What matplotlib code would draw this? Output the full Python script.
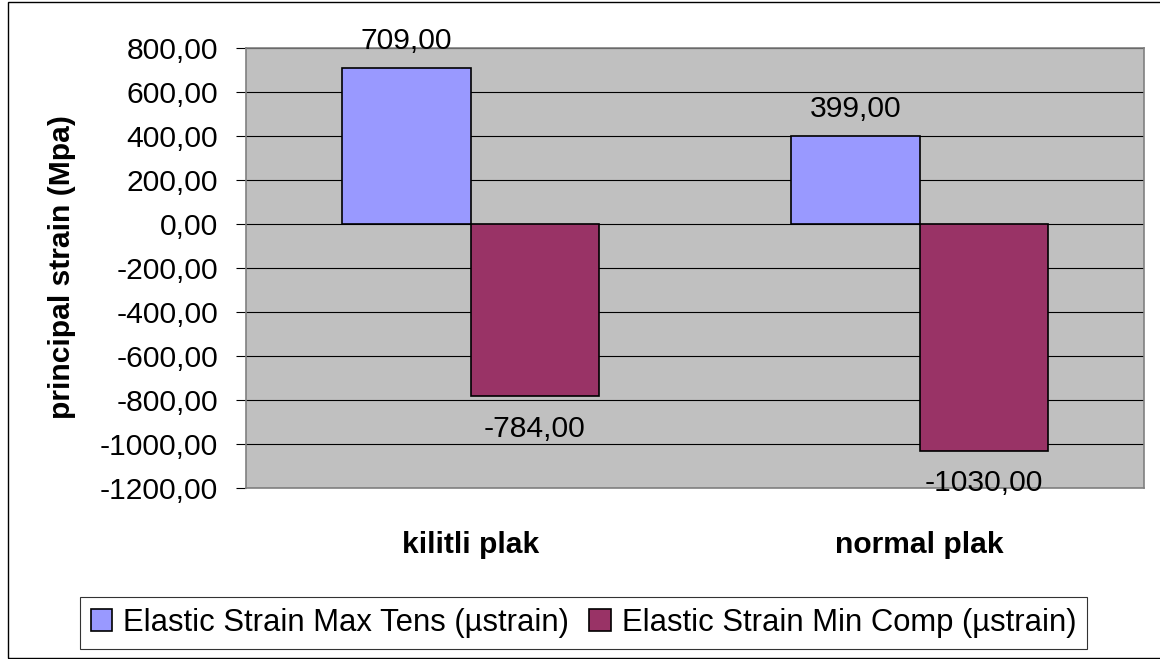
import matplotlib
matplotlib.use('Agg')
import matplotlib.pyplot as plt
from matplotlib.patches import Rectangle
import numpy as np

categories = ['kilitli plak', 'normal plak']
max_tens = [709.0, 399.0]
min_comp = [-784.0, -1030.0]
series_names = ['Elastic Strain Max Tens (µstrain)', 'Elastic Strain Min Comp (µstrain)']
y_ticks = [800, 600, 400, 200, 0, -200, -400, -600, -800, -1000, -1200]


def comma_fmt(v):
    '''Two decimals with a comma as the decimal sign.'''
    return f'{v:.2f}'.replace('.', ',')


plt.rcParams['font.family'] = ['Liberation Sans', 'DejaVu Sans']
FS = 21.6

W, H = 1160, 659
fig = plt.figure(figsize=(W / 100, H / 100), dpi=100)
fig.patch.set_facecolor('white')

# chart border
fig.add_artist(Rectangle((8 / W, 1 - 658 / H), 1.2, (658 - 2) / H,
                         transform=fig.transFigure, fill=False,
                         edgecolor='black', linewidth=1.0))

ax = fig.add_axes([246 / W, 1 - 488 / H, 898 / W, 440 / H])
ax.set_facecolor('#C0C0C0')

x = np.arange(len(categories))
w = 1 / 3.5

ax.set_axisbelow(True)
ax.grid(axis='y', color='black', linewidth=0.8)
b1 = ax.bar(x - w / 2, max_tens, w, color='#9999FF', edgecolor='black',
            linewidth=1.2, label=series_names[0], zorder=2)
b2 = ax.bar(x + w / 2, min_comp, w, color='#993366', edgecolor='black',
            linewidth=1.2, label=series_names[1], zorder=2)

for xi, v in zip(x - w / 2, max_tens):
    ax.annotate(comma_fmt(v), (xi, v), xytext=(0, 13.7), textcoords='offset points',
                ha='center', va='baseline', fontsize=FS, zorder=5)
for xi, v in zip(x + w / 2, min_comp):
    ax.annotate(comma_fmt(v), (xi, v), xytext=(0, -13), textcoords='offset points',
                ha='center', va='top', fontsize=FS, zorder=5)

ax.set_xlim(-0.5, 1.5)
ax.set_ylim(-1200, 800)
ax.set_yticks(y_ticks)
ax.set_yticklabels([comma_fmt(t) for t in y_ticks], fontsize=FS)
ax.tick_params(axis='y', direction='out', length=7.2, width=0.8, color='black', pad=13)
ax.set_xticks(x)
ax.set_xticklabels(categories, fontsize=FS, fontweight='bold')
ax.tick_params(axis='x', length=0, pad=31)

for s in ax.spines.values():
    s.set_color('#808080')
    s.set_linewidth(1.2)

fig.text(61.7 / W, 1 - 266.8 / H, 'principal strain (Mpa)', rotation=90,
         ha='center', va='center', fontsize=FS, fontweight='bold')

leg = fig.legend(handles=[b1, b2], loc='center', bbox_to_anchor=(583.5 / W, 1 - 623 / H),
                 ncol=2, fontsize=22.3, frameon=True, fancybox=False, shadow=False,
                 handlelength=0.7, handleheight=0.7, handletextpad=0.35,
                 columnspacing=0.65, borderpad=0.35, borderaxespad=0)
leg.get_frame().set_edgecolor('black')
leg.get_frame().set_linewidth(0.8)

fig.savefig('out.png', dpi=100)
plt.close(fig)
